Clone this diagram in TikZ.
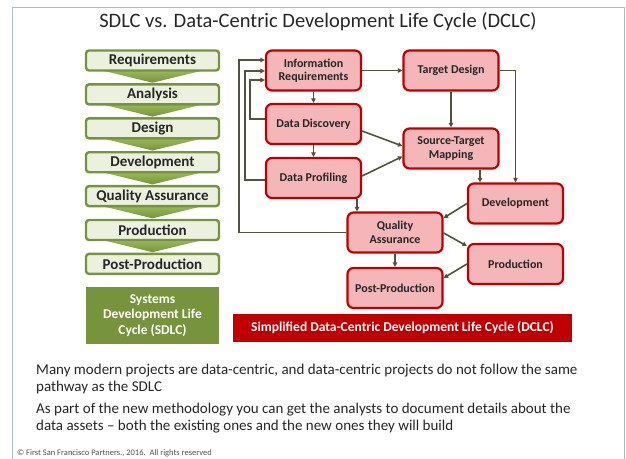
\documentclass[tikz,border=0pt]{standalone}
\usepackage{fontspec}
\setmainfont{Carlito}
\usetikzlibrary{arrows.meta,calc,backgrounds}
\definecolor{redbd}{RGB}{192,0,0}
\definecolor{pinkf}{RGB}{244,182,184}
\definecolor{olivec}{RGB}{119,147,60}
\definecolor{olivel}{RGB}{155,187,89}
\definecolor{lgreen}{RGB}{235,241,222}
\definecolor{connc}{RGB}{79,84,62}
\definecolor{txt}{RGB}{38,38,38}
\definecolor{framec}{RGB}{170,190,208}
\begin{document}
\begin{tikzpicture}[x=1pt,y=-1pt,
  rbox/.style={draw=redbd, fill=pinkf, line width=2.2pt, rounded corners=6pt,
    minimum width=95pt, minimum height=40pt, align=center,
    font=\bfseries\fontsize{12}{13.5}\selectfont, text=txt, inner sep=1pt},
  gbox/.style={draw=olivec, fill=lgreen, line width=2.4pt, rounded corners=3pt,
    minimum width=133pt, minimum height=20pt,
    font=\bfseries\fontsize{15}{16}\selectfont, text=txt, inner sep=0pt},
  conn/.style={draw=connc, line width=1.6pt, -{Triangle[length=4.5pt,width=4.5pt]}},
  chev/.style={top color=olivel, bottom color=olivec, draw=none},
  body/.style={anchor=base west, font=\fontsize{15}{17}\selectfont, text=txt, inner sep=0pt},
]
\useasboundingbox (0,0) rectangle (626,458);
\draw[framec, line width=0.9pt] (12,470) -- (12,7) -- (624,7) -- (624,470);

% title
\node[font=\fontsize{20.5}{22}\selectfont, text=txt] (title) at (318,22) {SDLC vs. Data-Centric Development Life Cycle (DCLC)};

% SDLC column
\foreach \t [count=\i] in {Requirements, Analysis, Design, Development, Quality Assurance, Production, Post-Production}
  \node[gbox] (g\i) at (152.5,{60.5+(\i-1)*33.9}) {\t};
\begin{scope}[on background layer]
\foreach \i in {1,...,6}
  \shade[chev] ($(g\i.south west)+(14,-2)$) -- ($(g\i.south east)+(-14,-2)$) -- ($(g\i.south)+(0,11)$) -- cycle;
\end{scope}

\node[fill=olivec, minimum width=133pt, minimum height=57pt, text=white, align=center,
  font=\bfseries\fontsize{13.5}{15.5}\selectfont, inner sep=0pt] (sdlc) at (152.5,315.5)
  {Systems\\Development Life\\Cycle (SDLC)};

% DCLC nodes
\node[rbox] (ir) at (313.5,70.5) {Information\\Requirements};
\node[rbox] (td) at (451,70.5) {Target Design};
\node[rbox] (dd) at (313.5,124) {Data Discovery};
\node[rbox] (stm) at (451,148.5) {Source-Target\\Mapping};
\node[rbox] (dp) at (313.5,178) {Data Profiling};
\node[rbox] (dev) at (515.5,203.5) {Development};
\node[rbox] (qa) at (395,232.5) {Quality\\Assurance};
\node[rbox] (prod) at (515.5,264) {Production};
\node[rbox] (pp) at (395,288) {Post-Production};

\node[fill=redbd, minimum width=339pt, minimum height=28pt, text=white,
  font=\bfseries\fontsize{13.5}{15}\selectfont, inner sep=0pt] (dclc) at (402.5,328)
  {Simplified Data-Centric Development Life Cycle (DCLC)};

% connectors
\draw[conn] (ir.east) -- (td.west);
\draw[conn] (ir.south) -- (dd.north);
\draw[conn] (dd.south) -- (dp.north);
\draw[conn] ($(dd.east)+(0,7)$) -- ($(stm.west)+(0,-2.5)$);
\draw[conn] ($(dp.east)+(0,-2)$) -- ($(stm.west)+(0,8)$);
\draw[conn] (td.south) -- (stm.north);
\draw[conn] (td.east) -| (dev.north);
\coordinate (s1) at ($(stm.south)+(29,0)$);
\draw[conn] (s1) -- (s1 |- dev.north);
\coordinate (d1) at ($(dp.south)+(43.5,0)$);
\draw[conn] (d1) -- (d1 |- qa.north);
\draw[conn] (dev.west) -- ($(qa.east)+(0,-14.5)$);
\draw[conn] ($(qa.east)+(0,0.5)$) -- ($(prod.west)+(0,-18)$);
\draw[conn] (prod.west) -- ($(pp.east)+(0,-10)$);
\draw[conn] (qa.south) -- (pp.north);

% feedback loops
\coordinate (f1) at ($(ir.west)+(0,-10.5)$);
\coordinate (f2) at ($(ir.west)+(0,0.5)$);
\coordinate (f3) at ($(ir.west)+(0,9.5)$);
\coordinate (L1) at (239,0);
\coordinate (L2) at (245,0);
\coordinate (L3) at (250,0);
\draw[conn] (qa.west) -| (L1 |- f1) -- (f1);
\draw[conn] ($(dp.west)+(0,2)$) -| (L2 |- f2) -- (f2);
\draw[conn] ($(dd.west)+(0,-5)$) -| (L3 |- f3) -- (f3);

% body text
\node[body] (p1) at (36,374) {Many modern projects are data-centric, and data-centric projects do not follow the same};
\node[body] (p2) at (36,391) {pathway as the SDLC};
\node[body] (p3) at (36,413) {As part of the new methodology you can get the analysts to document details about the};
\node[body] (p4) at (36,430) {data assets -- both the existing ones and the new ones they will build};
\node[anchor=base west, font=\fontsize{8.5}{10}\selectfont, text=txt!80, inner sep=0pt] (foot) at (17,455)
  {\textcopyright{} First San Francisco Partners., 2016.\ \ All rights reserved};
\end{tikzpicture}
\end{document}
